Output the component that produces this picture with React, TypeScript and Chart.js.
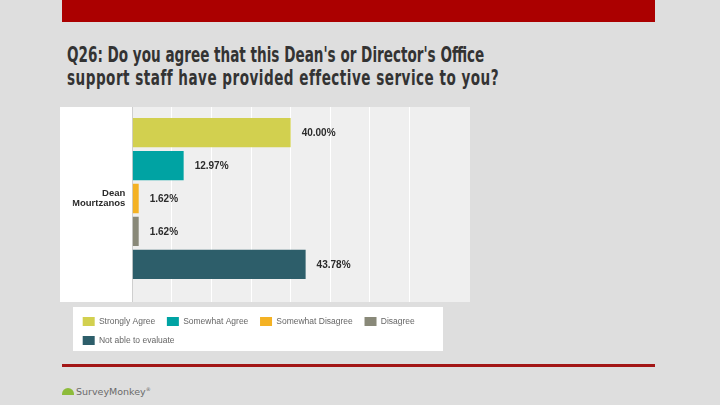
import React, { useEffect, useRef } from "react";
import { Chart, registerables } from "chart.js";

Chart.register(...registerables);

const categories: string[][] = [["Dean", "Mourtzanos"]];
const seriesNames: string[] = [
  "Strongly Agree",
  "Somewhat Agree",
  "Somewhat Disagree",
  "Disagree",
  "Not able to evaluate",
];
const seriesValues: number[] = [40.0, 12.97, 1.62, 1.62, 43.78];
const seriesColors: string[] = ["#d2d04f", "#00a3a3", "#f4b224", "#898979", "#2d5e6a"];
const xMax = 85.3;
const xStep = 10;

const plotBg = {
  id: "plotBg",
  beforeDraw(chart: any) {
    const { ctx, chartArea } = chart;
    ctx.save();
    ctx.fillStyle = "#efefef";
    ctx.fillRect(chartArea.left, chartArea.top, chartArea.right - chartArea.left, chartArea.bottom - chartArea.top + 12);
    ctx.restore();
  },
};

const valueLabels = {
  id: "valueLabels",
  afterDatasetsDraw(chart: any) {
    const { ctx } = chart;
    ctx.save();
    ctx.font = "bold 10px 'Liberation Sans', Arial, sans-serif";
    ctx.fillStyle = "#2b2b2b";
    ctx.textBaseline = "middle";
    ctx.textAlign = "left";
    chart.data.datasets.forEach((ds: any, i: number) => {
      const meta = chart.getDatasetMeta(i);
      meta.data.forEach((el: any, j: number) => {
        const v = ds.data[j] as number;
        ctx.fillText(v.toFixed(2) + "%", el.x + 11, el.y + 0.5);
      });
    });
    ctx.restore();
  },
};

function BarChart() {
  const ref = useRef<HTMLCanvasElement | null>(null);
  useEffect(() => {
    if (!ref.current) return;
    const chart = new Chart(ref.current, {
      type: "bar",
      data: {
        labels: categories as any,
        datasets: seriesNames.map((name, i) => ({
          label: name,
          data: [seriesValues[i]],
          backgroundColor: seriesColors[i],
          borderWidth: 0,
          categoryPercentage: 0.899,
          barPercentage: 0.89,
        })),
      },
      options: {
        indexAxis: "y",
        animation: false,
        responsive: false,
        maintainAspectRatio: false,
        layout: { padding: { left: 12.7, right: 0, top: 0, bottom: 0 } },
        scales: {
          x: {
            position: "bottom",
            min: 0,
            max: xMax,
            ticks: { display: false, stepSize: xStep },
            grid: {
              color: (c: any) => (c.index === 0 ? "#cfcfcf" : "#ffffff"),
              tickColor: (c: any) => (c.index === 0 ? "#cfcfcf" : "#ffffff"),
              lineWidth: 1,
              drawTicks: true,
              tickLength: 12,
            },
            border: { display: false },
            afterFit: (s: any) => {
              s.height = 17;
              s.paddingLeft = 0;
              s.paddingRight = 0;
            },
          },
          y: {
            grid: { display: false, drawTicks: false },
            border: { display: true, color: "#cfcfcf", width: 1 },
            ticks: {
              color: "#2b2b2b",
              padding: 7,
              font: { family: "'Liberation Sans', Arial, sans-serif", size: 9.5, weight: "bold", lineHeight: 1.08 },
            },
            afterFit: (s: any) => {
              s.width = 59.6;
              s.paddingTop = 0;
              s.paddingBottom = 0;
            },
          },
        },
        plugins: {
          tooltip: { enabled: false },
          legend: {
            display: true,
            position: "bottom",
            align: "start",
            labels: {
              boxWidth: 12,
              boxHeight: 9,
              padding: 10,
              color: "#666666",
              font: { family: "'Liberation Sans', Arial, sans-serif", size: 8.5 },
              generateLabels: (ch: any) =>
                ch.data.datasets.map((ds: any, i: number) => ({
                  text: ds.label + "\u2009",
                  fillStyle: ds.backgroundColor,
                  strokeStyle: ds.backgroundColor,
                  lineWidth: 0,
                  hidden: false,
                  datasetIndex: i,
                  fontColor: "#666666",
                })),
            },
          },
        },
      } as any,
      plugins: [plotBg, valueLabels],
    });
    return () => chart.destroy();
  }, []);
  return <canvas ref={ref} width={410} height={248} style={{ display: "block", width: 410, height: 248 }} />;
}

const titleLine: React.CSSProperties = {
  fontFamily: "'DejaVu Sans Condensed', 'DejaVu Sans', sans-serif",
  fontWeight: "bold",
  fontSize: 21,
  lineHeight: "22.5px",
  color: "#333333",
  whiteSpace: "nowrap",
};

export default function App() {
  return (
    <div
      style={{
        position: "fixed",
        left: 0,
        top: 0,
        width: 720,
        height: 405,
        background: "#dedede",
        overflow: "hidden",
        fontFamily: "'Liberation Sans', Arial, sans-serif",
      }}
    >
      <div style={{ position: "absolute", left: 62, top: 0, width: 593, height: 22, background: "#ab0000" }} />
      <div
        style={{
          position: "absolute",
          left: 67,
          top: 44,
          transformOrigin: "0 0",
          transform: "scaleX(0.718)",
        }}
      >
        <div style={titleLine}>Q26: Do you agree that this Dean's or Director's Office</div>
        <div style={{ ...titleLine, letterSpacing: "0.67px" }}>support staff have provided effective service to you?</div>
      </div>
      <div style={{ position: "absolute", left: 60, top: 107, width: 410, height: 195, background: "#ffffff" }} />
      <div style={{ position: "absolute", left: 73, top: 307, width: 370, height: 44, background: "#ffffff" }} />
      <div style={{ position: "absolute", left: 60, top: 107, width: 410, height: 248 }}>
        <BarChart />
      </div>
      <div style={{ position: "absolute", left: 62, top: 364, width: 593, height: 3, background: "#a31616" }} />
      <div style={{ position: "absolute", left: 62, top: 386, display: "flex", alignItems: "center" }}>
        <div
          style={{
            width: 12,
            height: 7,
            borderTopLeftRadius: 7,
            borderTopRightRadius: 7,
            background: "#8dbb3a",
            marginRight: 2,
          }}
        />
        <span style={{ fontFamily: "'DejaVu Sans', sans-serif", fontSize: 9.5, color: "#6a6a6a" }}>
          SurveyMonkey<sup style={{ fontSize: 5 }}>®</sup>
        </span>
      </div>
    </div>
  );
}
